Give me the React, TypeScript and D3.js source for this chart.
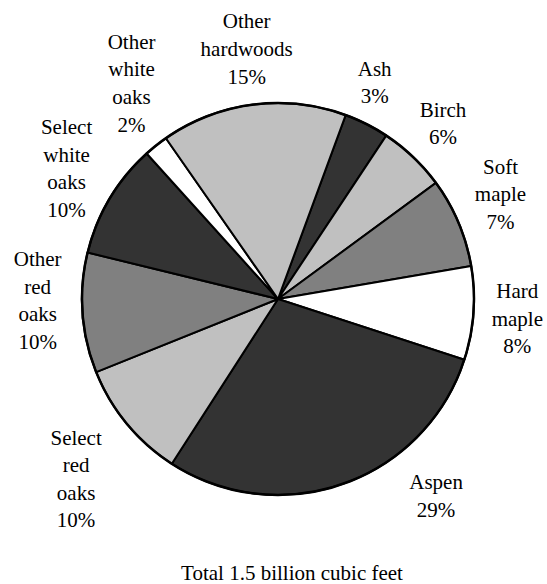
import { useEffect, useRef } from "react";
import * as d3 from "d3";

// slices, clockwise starting at about 20 degrees past 12 o'clock
const species = [
  "Ash",
  "Birch",
  "Soft maple",
  "Hard maple",
  "Aspen",
  "Select red oaks",
  "Other red oaks",
  "Select white oaks",
  "Other white oaks",
  "Other hardwoods",
];
const shares = [3.7, 5.6, 7.4, 7.7, 29.1, 9.8, 9.9, 9.5, 2.0, 15.3];
const shareLabels = ["3%", "6%", "7%", "8%", "29%", "10%", "10%", "10%", "2%", "15%"];
const labelLines = [
  ["Ash"],
  ["Birch"],
  ["Soft", "maple"],
  ["Hard", "maple"],
  ["Aspen"],
  ["Select", "red", "oaks"],
  ["Other", "red", "oaks"],
  ["Select", "white", "oaks"],
  ["Other", "white", "oaks"],
  ["Other", "hardwoods"],
];
const fills = ["#333333", "#c0c0c0", "#808080", "#ffffff", "#333333", "#c0c0c0", "#808080", "#333333", "#ffffff", "#c0c0c0"];
const title = "Total 1.5 billion cubic feet";

// label placement tweaks (like the spreadsheet's "best fit" labels)
const nudge: Record<string, [number, number]> = {
  Ash: [-14, 2],
  Birch: [-4, 2],
  "Soft maple": [-3, -9],
  "Hard maple": [-5, 2],
  Aspen: [76, -34],
  "Select red oaks": [-13, 24],
  "Other red oaks": [4, -16],
  "Select white oaks": [-1, -5],
  "Other white oaks": [6, -24],
  "Other hardwoods": [0, -7],
};

const serif = "Liberation Serif";

interface Slice {
  name: string;
  value: number;
  pct: string;
  lines: string[];
  fill: string;
}

export default function App() {
  const ref = useRef<SVGSVGElement | null>(null);

  useEffect(() => {
    const svg = d3.select(ref.current);
    const width = 547;
    const height = 584;
    const cx = 278;
    const cy = 299;
    const radius = 196;
    const fontSize = 21;
    const lineH = 27.6;

    const data: Slice[] = species.map((name, i) => ({
      name,
      value: shares[i],
      pct: shareLabels[i],
      lines: labelLines[i],
      fill: fills[i],
    }));

    const start = (20.2 * Math.PI) / 180;
    const pie = d3
      .pie<Slice>()
      .sort(null)
      .value((d) => d.value)
      .startAngle(start)
      .endAngle(start + 2 * Math.PI);
    const arcs = pie(data);

    const arc = d3.arc<d3.PieArcDatum<Slice>>().innerRadius(0).outerRadius(radius);
    const labelArc = d3.arc<d3.PieArcDatum<Slice>>().innerRadius(245).outerRadius(245);

    svg.selectAll("*").remove();
    svg.attr("width", width).attr("height", height);

    const g = svg.append("g").attr("transform", `translate(${cx},${cy})`);

    g.selectAll("path")
      .data(arcs)
      .enter()
      .append("path")
      .attr("d", arc)
      .attr("fill", (d) => d.data.fill)
      .attr("stroke", "#000")
      .attr("stroke-width", 2)
      .attr("stroke-linejoin", "round");

    g.append("circle")
      .attr("r", radius)
      .attr("fill", "none")
      .attr("stroke", "#000")
      .attr("stroke-width", 2.5);

    const labels = g
      .selectAll("g.label")
      .data(arcs)
      .enter()
      .append("g")
      .attr("class", "label")
      .attr("transform", (d) => {
        const [x, y] = labelArc.centroid(d);
        const [dx, dy] = nudge[d.data.name] || [0, 0];
        return `translate(${x + dx},${y + dy})`;
      });

    labels
      .selectAll("text")
      .data((d) => {
        const lines = [...d.data.lines, d.data.pct];
        const first = -((lines.length - 1) / 2) * lineH + 7;
        return lines.map((line, i) => ({ line, y: first + i * lineH }));
      })
      .enter()
      .append("text")
      .attr("x", 0)
      .attr("y", (d) => d.y)
      .attr("text-anchor", "middle")
      .attr("font-family", serif)
      .attr("font-size", fontSize)
      .attr("fill", "#000")
      .text((d) => d.line);

    svg
      .append("text")
      .attr("x", 292)
      .attr("y", 580)
      .attr("text-anchor", "middle")
      .attr("font-family", serif)
      .attr("font-size", fontSize)
      .attr("fill", "#000")
      .text(title);
  }, []);

  return (
    <svg
      ref={ref}
      style={{ position: "absolute", left: 0, top: 0, background: "#fff" }}
    ></svg>
  );
}
